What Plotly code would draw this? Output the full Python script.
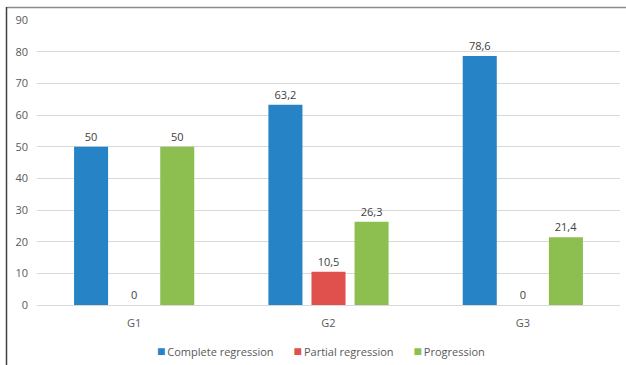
import plotly.graph_objects as go

# Outcome by group (%)
groups = ["G1", "G2", "G3"]
complete_regression = [50, 63.2, 78.6]
partial_regression = [0, 10.5, 0]
progression = [50, 26.3, 21.4]

series = [
    ("Complete regression", complete_regression, "#2683C6"),
    ("Partial regression", partial_regression, "#E0504C"),
    ("Progression", progression, "#8CBF4F"),
]

W, H = 626, 365
L, R, T, B = 37, 6, 20, 60
pw, ph = W - L - R, H - T - B
TEXT = "#595959"
LABEL = "#404040"


def px_x(px):
    return (px - L) / pw


def px_y(py):
    return (H - B - py) / ph


def label(v):
    return f"{v:g}".replace(".", ",")


fig = go.Figure()
for name, vals, color in series:
    fig.add_trace(go.Bar(
        name=name,
        x=groups,
        y=vals,
        marker=dict(color=color, line=dict(width=0)),
        text=[label(v) for v in vals],
        textposition="outside",
        textfont=dict(color=LABEL, size=11),
        outsidetextfont=dict(color=LABEL, size=11),
        insidetextfont=dict(color=LABEL, size=11),
        constraintext="none",
        cliponaxis=False,
        showlegend=False,
    ))

# Legend row: small coloured squares followed by the series names
gap = "\u00a0" * 7
legend_text = gap.join(
    f"<span style='color:{color};font-size:14px'>\u25a0</span>\u2009{name}"
    for name, _, color in series
)

fig.update_layout(
    width=W,
    height=H,
    margin=dict(l=L, r=R, t=T, b=B, autoexpand=False),
    paper_bgcolor="white",
    plot_bgcolor="white",
    font=dict(family="Open Sans", size=11, color=TEXT),
    barmode="group",
    bargap=0.335,
    bargroupgap=0.21,
    showlegend=False,
    xaxis=dict(
        showgrid=False,
        showline=False,
        zeroline=False,
        ticks="",
        tickfont=dict(size=11, color=TEXT),
        ticklabelstandoff=10,
    ),
    yaxis=dict(
        range=[0, 90],
        dtick=10,
        showgrid=True,
        gridcolor="#D9D9D9",
        gridwidth=1,
        zeroline=True,
        zerolinecolor="#D9D9D9",
        zerolinewidth=1,
        showline=False,
        ticks="",
        tickfont=dict(size=11, color=TEXT),
        ticklabelstandoff=8,
    ),
    annotations=[
        dict(
            text=legend_text,
            xref="paper", yref="paper",
            x=px_x(321), y=px_y(350),
            xanchor="center", yanchor="middle",
            showarrow=False,
            font=dict(size=11, color=TEXT),
        )
    ],
    shapes=[
        dict(type="line", xref="paper", yref="paper",
             x0=px_x(6.5), x1=px_x(W), y0=px_y(7.5), y1=px_y(7.5),
             line=dict(color="#8C8C8C", width=1.5)),
        dict(type="line", xref="paper", yref="paper",
             x0=px_x(6.5), x1=px_x(6.5), y0=px_y(7), y1=px_y(H),
             line=dict(color="#404040", width=1.5)),
    ],
)

fig.write_html("out.html")
